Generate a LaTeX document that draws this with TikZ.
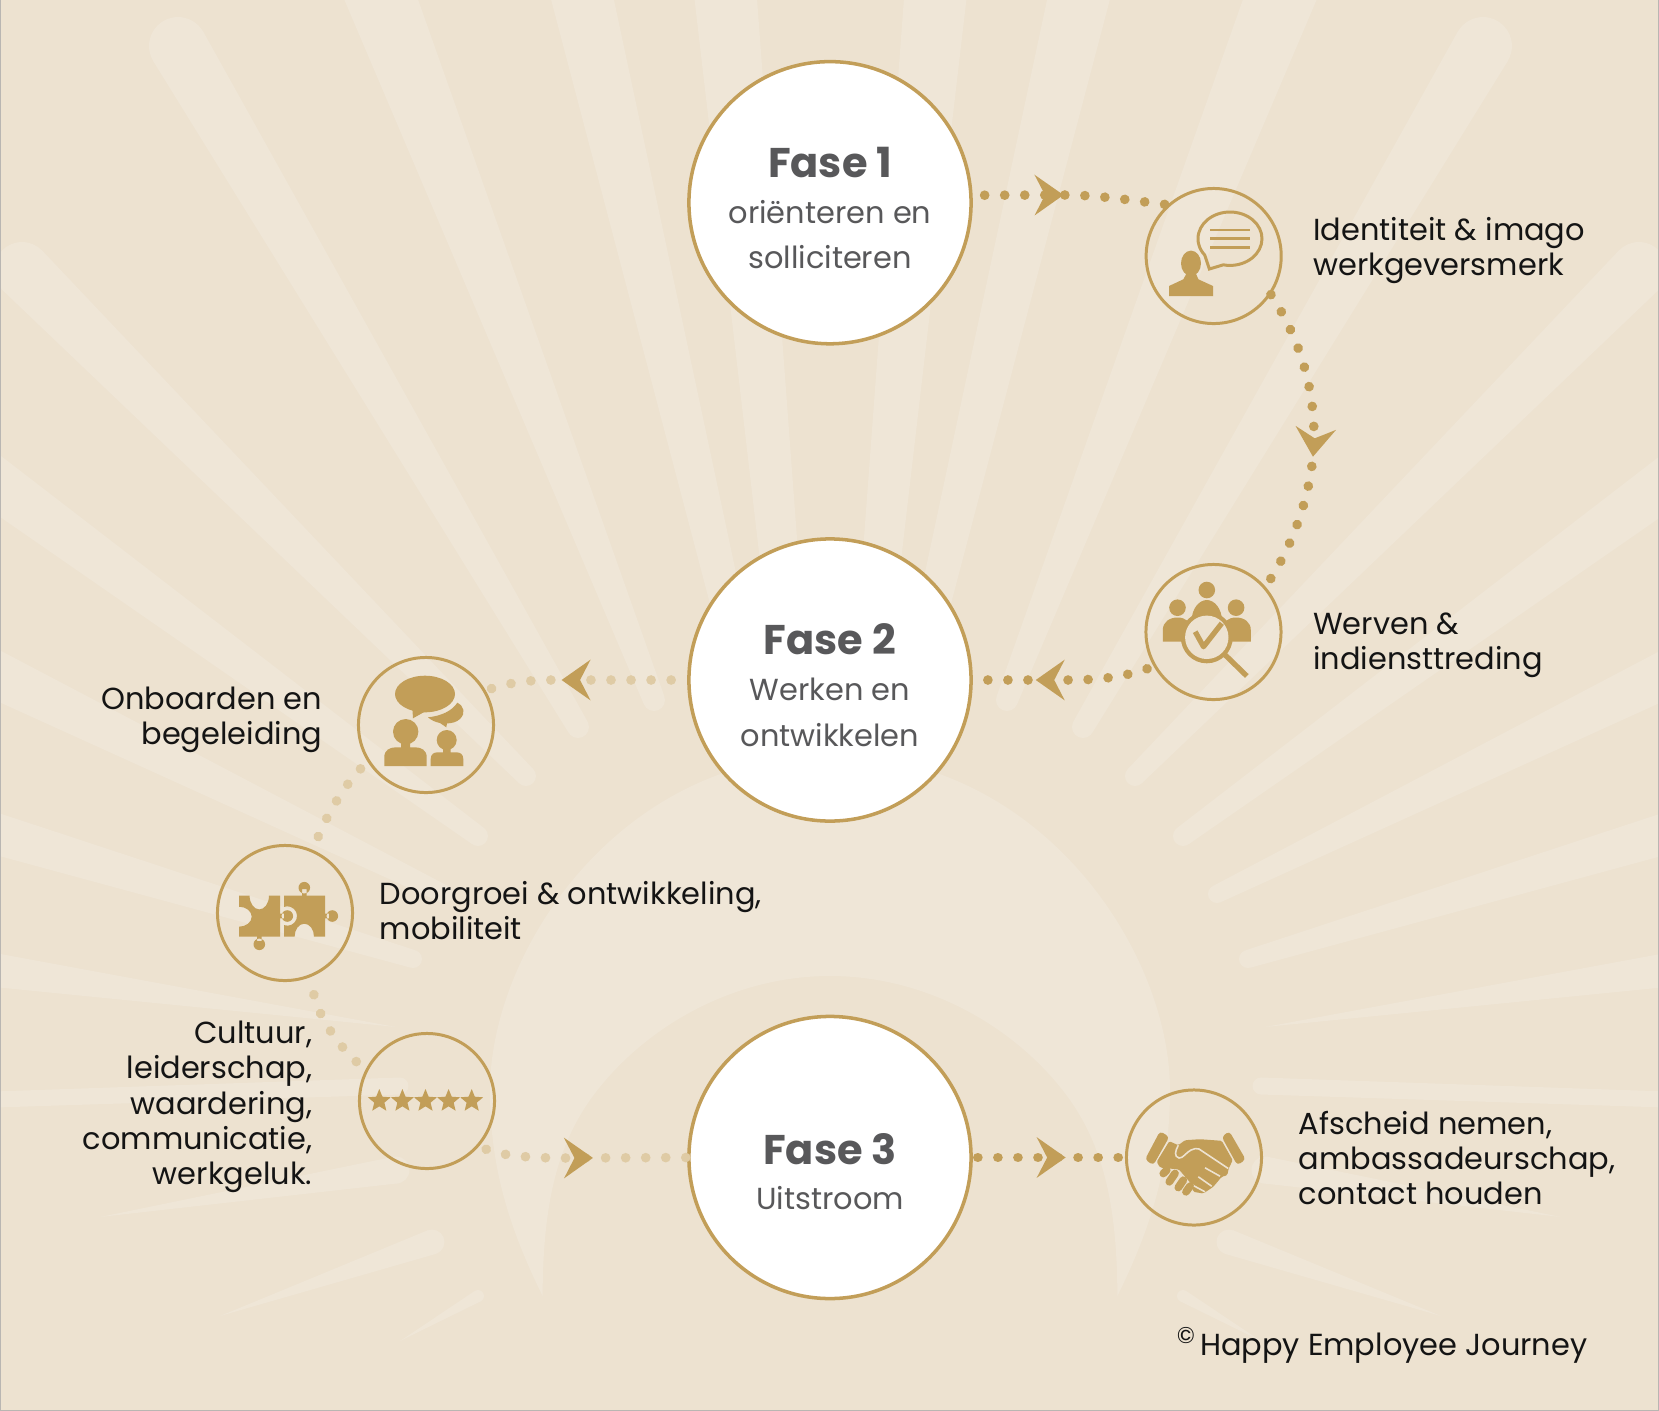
\documentclass[tikz,border=0pt]{standalone}
\usepackage{fontspec}
\setmainfont{Poppins}
\usetikzlibrary{positioning,arrows.meta,shapes.geometric,calc,decorations.markings}
\definecolor{sand}{HTML}{EDE2D0}
\definecolor{sandlight}{HTML}{EFE6D7}
\definecolor{gold}{HTML}{C29E58}
\definecolor{golddot}{HTML}{DFCBA5}
\definecolor{inkgrey}{HTML}{58585A}
\definecolor{framegrey}{HTML}{B9B6B2}
\newcommand{\labelfont}{\fontsize{8.65pt}{10.05pt}\selectfont}
\newcommand{\phasefont}{\fontsize{8.65pt}{13pt}\selectfont}
\newcommand{\phasehead}{\fontsize{11.8pt}{13pt}\selectfont\bfseries}

\begin{document}
\begin{tikzpicture}[
  x=0.01cm, y=-0.01cm,
  phase/.style={draw=gold, line width=1pt, circle, fill=white, inner sep=0pt,
                minimum size=2.82cm, align=center, text=inkgrey, font=\phasefont},
  stage/.style={draw=gold, line width=0.85pt, circle, inner sep=0pt, minimum size=1.35cm},
  lab/.style={inner sep=0pt, text=black!92, font=\labelfont},
  flowtip/.tip={Stealth[length=8.25pt, width=11.6pt, inset=3pt, line width=0pt, color=gold]},
  dotline/.style={draw=gold, line width=2.75pt, line cap=round, dash pattern=on 0.01pt off 5.69pt},
  flow/.style={dotline, postaction={decorate, decoration={markings, mark=at position #1 with {\arrow{flowtip}}}}},
  faint/.style={flow=#1, draw=golddot},
  goldstar/.style={star, star points=5, star point ratio=2.25, fill=gold, inner sep=0pt, minimum size=0.24cm},
  imagoicon/.pic={
    \fill[gold] (-22.7,7.3) ellipse (10 and 12.7);
    \fill[gold] (-44.7,40) -- (-44.7,30) -- (-30.3,23.3) -- (-27,17) -- (-18,17) -- (-15.3,23.3) -- (-0.7,30) -- (-0.7,40) -- cycle;
    \draw[gold, line width=0.85pt] (16.3,-17.3) ++(102:32 and 26.7) arc (102:-218:32 and 26.7) -- (-4.3,13) -- cycle;
    \foreach \ly in {-26,-17.3,-8.7} \draw[gold, line width=0.7pt] (-3.7,\ly) -- (36.3,\ly);
  },
  wervenicon/.pic={
    \fill[gold] (-6.7,-42) circle (8.3) (-36,-24.3) circle (8.3) (22.6,-24.3) circle (8.3);
    \fill[gold] (-50.7,9.7) -- (-50.7,-2) .. controls (-50.7,-10) and (-44,-14.5) .. (-36,-14.5) .. controls (-28,-14.5) and (-22,-10) .. (-22,-2) -- (-22,9.7) -- cycle;
    \fill[gold] (37.3,9.7) -- (37.3,-2) .. controls (37.3,-10) and (30.6,-14.5) .. (22.6,-14.5) .. controls (14.6,-14.5) and (8.6,-10) .. (8.6,-2) -- (8.6,9.7) -- cycle;
    \fill[gold] (-22,-10) .. controls (-22,-24) and (-14,-32) .. (-6.7,-32) .. controls (0.6,-32) and (8.6,-24) .. (8.6,-10) -- cycle;
    \fill[gold] (-6.7,5.3) circle (26);
    \fill[sand] (-6.7,5.3) circle (21.7);
    \draw[gold, line width=1.5pt] (11.7,23) -- (33.3,44);
    \draw[gold, line width=1.5pt, line join=round] (-18.3,-0.3) -- (-10,14.7) -- (8.3,-8.7);
  },
  onboardicon/.pic={
    \fill[gold] (-1,-31) ellipse (30 and 18.3);
    \fill[gold] (-13.7,-17.7) -- (-13,-6.7) -- (-1.3,-13.3) -- cycle;
    \fill[gold] (2,-7.7) .. controls (15,-9) and (26,-14) .. (31.3,-22.3) .. controls (38,-19) and (40,-12) .. (34,-6) .. controls (30,-2.5) and (26,-2) .. (21,-1.5) -- (20.3,2.3) -- (14,-2) .. controls (9,-3) and (5,-5) .. cycle;
    \fill[gold] (-20.3,6.7) circle (12.7) (20.7,15) circle (10);
    \fill[gold] (-41.7,41) -- (-41.7,32) .. controls (-41.7,25) and (-36,22.3) .. (-30,22.3) -- (-25,22.3) -- (-25,15) -- (-16,15) -- (-16,22.3) -- (-11,22.3) .. controls (-5,22.3) and (0.7,25) .. (0.7,32) -- (0.7,41) -- cycle;
    \fill[gold] (4.7,41) -- (4.7,34) .. controls (4.7,29) and (8,27.3) .. (12,27.3) -- (17,27.3) -- (17,22) -- (24.5,22) -- (24.5,27.3) -- (30,27.3) .. controls (34,27.3) and (37.3,29) .. (37.3,34) -- (37.3,41) -- cycle;
  },
  groeiicon/.pic={
    \fill[gold] (-46,-17.3) -- (-35.4,-17.3) arc (180:0:9.7 and 13.7) -- (-5,-17.3) -- (-5,23.7) -- (-46,23.7) -- (-46,13.7) arc (90:-90:12.7 and 10) -- cycle;
    \fill[gold] (-25.7,31.3) circle (5.8) (-28,23) rectangle (-23.4,28);
    \fill[gold] (2.3,3) circle (5.8) (-5.5,0.7) rectangle (-1,5.3);
    \fill[gold] (-1,-17.3) -- (40,-17.3) -- (40,23.7) -- (29,23.7) arc (0:-180:9.7 and 13) -- (-1,23.7) -- (-1,12.1) arc (110:-110:9.7) -- cycle;
    \fill[gold] (19.3,-25.3) circle (5.8) (17,-24) rectangle (21.6,-17);
    \fill[gold] (47.3,3) circle (5.8) (39.5,0.7) rectangle (44,5.3);
  },
  cultuuricon/.pic={
    \foreach \i in {-2,...,2} \node[goldstar] (star\i) at (\i*23.1-1.5,0) {};
  },
  afscheidicon/.pic={
    \fill[gold, rounded corners=1pt] (-34,-26.3) -- (-24.7,-20.7) -- (-40.7,7.7) -- (-49,2) -- cycle;
    \fill[gold, rounded corners=1pt] (27.7,-20.7) -- (35.3,-26.3) -- (51.7,2) -- (43.3,7.7) -- cycle;
    \fill[gold, rounded corners=0.4pt] (-24.7,-16.3) -- (-15.7,-12.3) -- (-9,-17.3) -- (6,-18.3) -- (27.7,-16.7) -- (38.7,2.7) -- (34.7,11) -- (33.3,17.7) -- (27.7,19.3) -- (19.3,29.3) -- (9.3,36) -- (-0.7,34.3) -- (-3,26) -- (-9,19) -- (-15,12) -- (-34,10) -- (-37.3,4.3) -- cycle;
    \draw[sand, line width=0.45pt] (-15.7,-12.3) .. controls (-19,-6) and (-20,-1) .. (-15,0.5) .. controls (-11,1) and (-8,-5) .. (-3,-7.5) .. controls (0,-9) and (3,-9.5) .. (5,-8.5) -- (34.3,11);
    \draw[sand, line width=0.45pt] (11,10.3) -- (26,18.7) (4.3,19.3) -- (17.7,28.7) (-1.3,27.7) -- (11,34.3);
    \draw[gold, line width=2.2pt, line cap=round] (-30.7,16) -- (-27.3,12.7) (-24.7,24.3) -- (-19,16) (-15.7,30) -- (-10.7,22.7) (-8,34.3) -- (-4,28.7);
  },
]
\useasboundingbox (0,0) rectangle (1659,1411);
\fill[sand] (0,0) rectangle (1659,1411);
\begin{scope}
\clip (0,0) rectangle (1659,1411);
\foreach \s in {1,-1} {
  \begin{scope}[xshift=8.3cm, xscale=\s, xshift=-8.3cm]
    \foreach \xa/\ya/\wa/\xb/\yb/\wb in {
      178/46/58/578/727/22, 22/270/56/526/776/20, -20/472/51/478/836/20,
      -20/667/48/444/894/18, -20/829/42/413/959/18, -20/968/35/396/1027/0,
      -20/1100/16/400/1086/17, 100/1217/0/396/1170/27, 220/1316/0/432/1242/25,
      400/1341/0/478/1296/12, 374/-20/70/654/700/22, 578/-20/62/735/640/30,
      724/-20/63/785/620/36} {
      \fill[sandlight] ($(\xa,\ya)!\wa*0.005cm!90:(\xb,\yb)$) -- ($(\xb,\yb)!\wb*0.005cm!-90:(\xa,\ya)$)
        -- ($(\xb,\yb)!\wb*0.005cm!90:(\xa,\ya)$) -- ($(\xa,\ya)!\wa*0.005cm!-90:(\xb,\yb)$) -- cycle;
      \fill[sandlight] (\xa,\ya) circle[radius=\wa/2];
      \fill[sandlight] (\xb,\yb) circle[radius=\wb/2];
    }
  \end{scope}
}
\fill[sandlight] (542.6,1296) .. controls (505,1220) and (490,1160) .. (490,1090) .. controls (490,950) and (620,755) .. (830,755)
  .. controls (1040,755) and (1170,950) .. (1170,1090) .. controls (1170,1160) and (1155,1220) .. (1117.4,1296)
  .. controls (1117,1210) and (1105,1150) .. (1070,1100) .. controls (1020,1030) and (930,976) .. (830,976)
  .. controls (730,976) and (640,1030) .. (590,1100) .. controls (555,1150) and (543,1210) .. cycle;
\draw[framegrey, line width=0.6pt] (0,0) -- (0,1411) -- (1659,1411) -- (1659,0);
\end{scope}

\node[phase] (fase1) at (830,202.7) {\rule{0pt}{11.7pt}{\phasehead Fase 1}\\oriënteren en\\solliciteren};
\node[phase] (fase2) at (830,680) {\rule{0pt}{11.7pt}{\phasehead Fase 2}\\Werken en\\ontwikkelen};
\node[phase] (fase3) at (830,1157.5) {\rule{0pt}{16.8pt}{\phasehead Fase 3}\\Uitstroom};

\node[stage] (imago) at (1213.7,256) {};
\node[stage] (werven) at (1213.5,632) {};
\node[stage] (onboard) at (426,725) {};
\node[stage] (groei) at (285,913) {};
\node[stage] (cultuur) at (427,1101) {};
\node[stage] (afscheid) at (1194,1157.5) {};

\pic at (imago) {imagoicon};
\pic at (werven) {wervenicon};
\pic at (onboard) {onboardicon};
\pic at (groei) {groeiicon};
\pic at (cultuur) {cultuuricon};
\pic at (afscheid) {afscheidicon};

\node[lab, align=left, right=0.30cm of imago, yshift=0.053cm] (imagotext) {Identiteit \& imago\\werkgeversmerk};
\node[lab, align=left, right=0.30cm of werven, yshift=-0.13cm] (wervententext) {Werven \&\\indiensttreding};
\node[lab, align=right, left=0.34cm of onboard, yshift=0.05cm] (onboardtext) {Onboarden en\\begeleiding};
\node[lab, align=left, right=0.25cm of groei, yshift=0.025cm] (groeitext) {Doorgroei \& ontwikkeling,\\mobiliteit};
\node[lab, align=right, left=0.45cm of cultuur, yshift=-0.06cm] (cultuurtext) {Cultuur,\\leiderschap,\\waardering,\\communicatie,\\werkgeluk.};
\node[lab, align=left, right=0.35cm of afscheid, yshift=-0.005cm] (afscheidtext) {Afscheid nemen,\\ambassadeurschap,\\contact houden};
\node[lab, anchor=base east] (journey) at (1588,1355) {{\fontsize{6.5pt}{7pt}\selectfont\raisebox{3.4pt}{©}}\,Happy Employee Journey};

\draw[flow=0.465, shorten <=0.12cm] (fase1.3) -- (1064,195) .. controls (1100,195) and (1135,201) .. (imago.132);
\draw[flow=0.55, shorten >=0.05cm] (imago.-34) .. controls (1304,345) and (1314,395) .. (1314,436) .. controls (1314,480) and (1299,535) .. (werven.41);
\draw[flow=0.655, shorten <=0.07cm, shorten >=0.1cm] (werven.210) .. controls (1120,678) and (1095,680) .. (1068,680) -- (fase2.east);
\draw[faint=0.62, shorten <=0.16cm] (fase2.west) -- (553,680) .. controls (530,680) and (510,682) .. (onboard.30);
\draw[dotline, draw=golddot, shorten <=0.1cm, shorten >=0.05cm] (onboard.212) .. controls (345,785) and (326,815) .. (groei.66);
\draw[dotline, draw=golddot, shorten <=0.177cm, shorten >=0.05cm] (groei.-69) .. controls (320,1020) and (340,1048) .. (cultuur.153);
\draw[faint=0.55, shorten <=0.077cm] (cultuur.-41) .. controls (500,1155) and (525,1158) .. (565,1158) -- (fase3.west);
\draw[flow=0.61, shorten <=0.05cm, shorten >=0.05cm] (fase3.east) -- (afscheid.west);
\end{tikzpicture}
\end{document}
